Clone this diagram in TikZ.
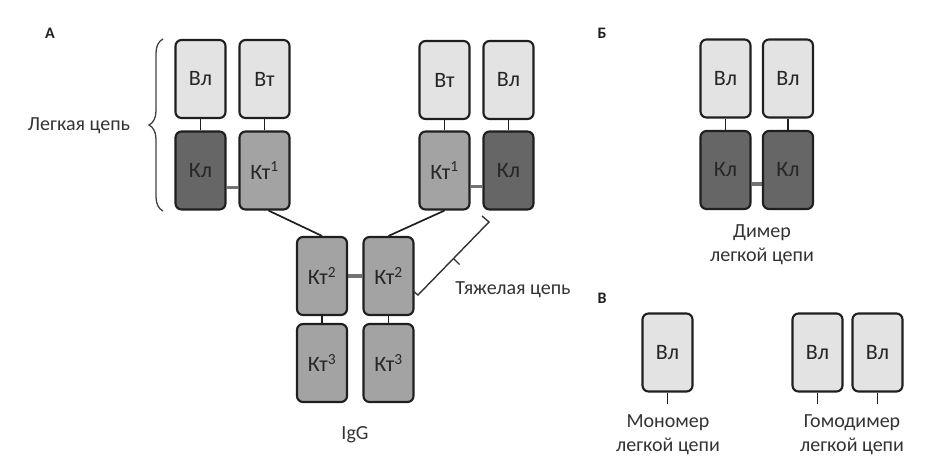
\documentclass[tikz,border=0pt]{standalone}
\usepackage{fontspec}
\setmainfont{Carlito}
\usetikzlibrary{calc, decorations.pathreplacing}
\usetikzlibrary{positioning}

\tikzset{
  dom/.style={draw=black!88, line width=2.1pt, rounded corners=6pt, minimum width=50pt, minimum height=78pt, inner sep=0pt, text=black!85, font=\fontsize{22}{24}\selectfont},
  vbox/.style={dom, fill=black!11},
  klbox/.style={dom, fill=black!60},
  ktbox/.style={dom, fill=black!36},
  link/.style={line width=1.7pt, black!88},
  sbond/.style={line width=3.5pt, black!55},
  lbl/.style={inner sep=0pt, text=black!80, align=center, font=\fontsize{20}{24}\selectfont},
  panel/.style={inner sep=0pt, text=black!88, font=\fontsize{16}{18}\selectfont\bfseries}
}

\begin{document}
\begin{tikzpicture}[x=1pt, y=-1pt]
            \useasboundingbox (0,0) rectangle (934,472);

            \node[panel] (pa) at (50,33) {А};
            \node[vbox] (vl1) at (200.5,79) {Вл};
            \node[vbox] (vt1) at (264.5,79) {Вт};
            \node[klbox] (kl1) at (200.5,170.5) {Кл};
            \node[ktbox] (kta1) at (264.5,170.5) {Кт\textsuperscript{1}};
            \node[vbox] (vt2) at (444.5,80) {Вт};
            \node[vbox] (vl2) at (508.5,80) {Вл};
            \node[ktbox] (kta2) at (444.5,170.5) {Кт\textsuperscript{1}};
            \node[klbox] (kl2) at (508.5,170.5) {Кл};
            \node[ktbox] (ktb1) at (322,276) {Кт\textsuperscript{2}};
            \node[ktbox] (ktb2) at (388.5,276) {Кт\textsuperscript{2}};
            \node[ktbox] (ktc1) at (322,363) {Кт\textsuperscript{3}};
            \node[ktbox] (ktc2) at (388.5,363) {Кт\textsuperscript{3}};

            \draw[link] (vl1) -- (kl1);
            \draw[link] (vt1) -- (kta1);
            \draw[link] (vt2) -- (kta2);
            \draw[link] (vl2) -- (kl2);
            \draw[link] (ktb1) -- (ktc1);
            \draw[link] (ktb2) -- (ktc2);
            \draw[link] ([xshift=4pt]kta1.south) -- (ktb1.north);
            \draw[link] (kta2.south) -- (ktb2.north);
            \draw[sbond] ([yshift=-17pt]kl1.east) -- ([yshift=-17pt]kta1.west);
            \draw[sbond] ([yshift=-16pt]kta2.east) -- ([yshift=-16pt]kl2.west);
            \draw[sbond] (ktb1) -- (ktb2);

            \draw[decorate, decoration={brace, amplitude=14pt}, line width=1.3pt, black!75] (163,211) -- (163,39);
            \node[lbl] (lc) at (79,126) {Легкая цепь};

            \coordinate (ht) at (489,222);
            \coordinate (hb) at (418,295);
            \draw[line width=1.4pt, black!80] (482,216) -- (ht) -- (hb) -- (413,291);
            \draw[line width=1.4pt, black!80] ($(ht)!0.5!(hb)$) -- ++(6,6);
            \node[lbl] (tc) at (513,290) {Тяжелая цепь};
            \node[lbl] (igg) at (355,435) {IgG};

            \node[panel] (pb) at (602,33) {Б};
            \node[vbox] (dv1) at (725.5,78.5) {Вл};
            \node[vbox] (dv2) at (788,78.5) {Вл};
            \node[klbox] (dk1) at (725.5,170) {Кл};
            \node[klbox] (dk2) at (788,170) {Кл};
            \draw[link] (dv1) -- (dk1);
            \draw[link] (dv2) -- (dk2);
            \draw[sbond] ([yshift=-14pt]dk1.east) -- ([yshift=-14pt]dk2.west);
            \node[lbl] (dim) at (762,245) {Димер\\легкой цепи};

            \node[panel] (pv) at (602,298) {В};
            \node[vbox] (mv) at (667.5,352.5) {Вл};
            \node[vbox] (gv1) at (817.5,352.5) {Вл};
            \node[vbox] (gv2) at (877.5,352.5) {Вл};
            \coordinate (me) at (667.5,404);
            \coordinate (ge1) at (817.5,404);
            \coordinate (ge2) at (877.5,404);
            \draw[link] (mv) -- (me);
            \draw[link] (gv1) -- (ge1);
            \draw[link] (gv2) -- (ge2);
            \node[lbl] (mon) at (668,435) {Мономер\\легкой цепи};
            \node[lbl] (hom) at (852,435) {Гомодимер\\легкой цепи};
        \end{tikzpicture}
\end{document}
